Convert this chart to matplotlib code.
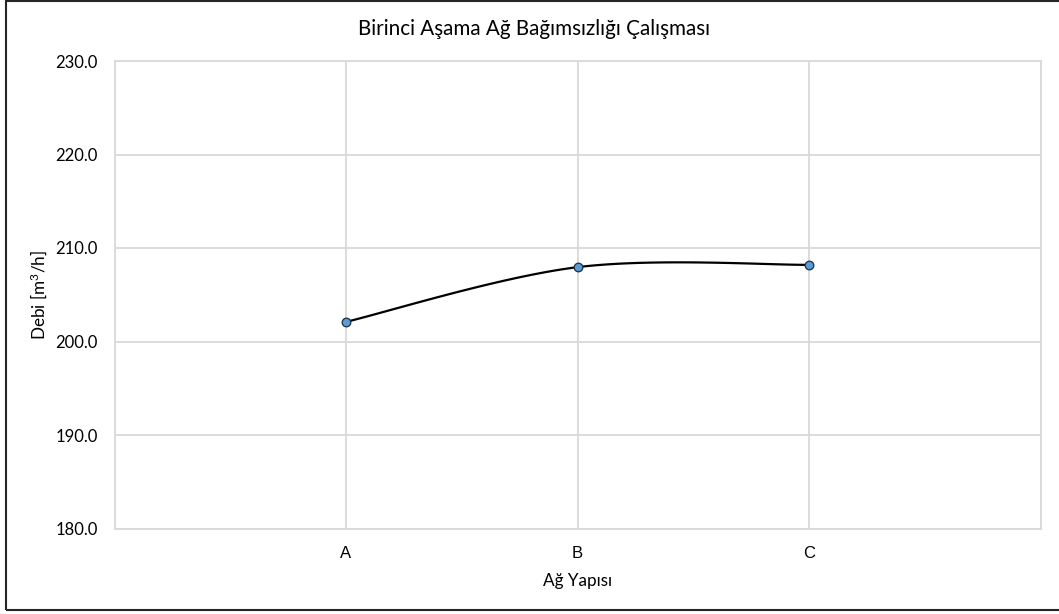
import numpy as np
import matplotlib.pyplot as plt
from matplotlib.patches import Rectangle

# network layout study: flow rate per mesh structure
categories = ["A", "B", "C"]
flow = [202.1, 207.95, 208.2]
y_ticks = [180, 190, 200, 210, 220, 230]

TITLE = "Birinci Aşama Ağ Bağımsızlığı Çalışması"
XLABEL = "Ağ Yapısı"
YLABEL = "Debi [m$^3$/h]"

plt.rcParams["font.family"] = ["Lato", "DejaVu Sans"]
plt.rcParams["mathtext.default"] = "regular"

GRID = "#d9d9d9"


def smooth_curve(x, y, n=60):
    """spline through points with cubic bezier segments (tangent / 6)"""
    x = np.asarray(x, float)
    y = np.asarray(y, float)
    pts = np.column_stack([x, y])
    out = []
    for i in range(len(pts) - 1):
        p0 = pts[i - 1] if i > 0 else pts[i]
        p1 = pts[i]
        p2 = pts[i + 1]
        p3 = pts[i + 2] if i + 2 < len(pts) else pts[i + 1]
        c1 = p1 + (p2 - p0) / 6
        c2 = p2 - (p3 - p1) / 6
        t = np.linspace(0, 1, n)[:, None]
        seg = ((1 - t) ** 3 * p1 + 3 * (1 - t) ** 2 * t * c1
               + 3 * (1 - t) * t ** 2 * c2 + t ** 3 * p2)
        out.append(seg if i == 0 else seg[1:])
    seg = np.vstack(out)
    return seg[:, 0], seg[:, 1]


fig = plt.figure(figsize=(10.59, 6.14), dpi=100)
ax = fig.add_axes([114.5 / 1059, 1 - 528.5 / 614,
                   (1040.5 - 114.5) / 1059, (528.5 - 61) / 614])

xpos = np.arange(1, len(categories) + 1)
sx, sy = smooth_curve(xpos, flow)
ax.plot(sx, sy, color="black", lw=1.6, zorder=3, solid_capstyle="round")
ax.plot(xpos, flow, ls="none", marker="o", ms=6.2, mfc="#5b9bd5",
        mec="#1f2f3f", mew=0.9, zorder=4)

ax.set_xlim(0, len(categories) + 1)
ax.set_ylim(y_ticks[0], y_ticks[-1])
ax.set_yticks(y_ticks)
ax.set_yticklabels([f"{v:.1f}" for v in y_ticks])
ax.set_xticks(xpos)
ax.set_xticklabels(categories)
ax.set_xticks(np.arange(0, len(categories) + 2), minor=True)

ax.grid(True, which="minor", axis="x", color=GRID, lw=1.3)
ax.grid(True, which="major", axis="x", color=GRID, lw=1.3)
ax.grid(True, which="major", axis="y", color=GRID, lw=1.3)
ax.set_axisbelow(True)
for s in ax.spines.values():
    s.set_color(GRID)
    s.set_linewidth(1.3)

ax.tick_params(axis="both", which="both", length=0, colors="black")
ax.tick_params(axis="y", pad=12, labelsize=12)
ax.tick_params(axis="x", pad=12.5, labelsize=12)
for lab in ax.get_xticklabels():
    lab.set_family(["Liberation Sans", "DejaVu Sans"])

ax.set_xlabel(XLABEL, fontsize=12.3, labelpad=9)
ax.set_ylabel(YLABEL, fontsize=12.3, labelpad=5)
fig.text(534.5 / 1059, 1 - 29 / 614, TITLE, ha="center", va="center",
         fontsize=14.9)

# chart frame
fig.patches.append(Rectangle((5.5 / 1059, 1 - 609.5 / 614),
                             1.2, (609.5 - 0.5) / 614,
                             transform=fig.transFigure, fill=False,
                             ec="#262626", lw=1.5, zorder=0))

fig.savefig("out.png", dpi=100, facecolor="white")
